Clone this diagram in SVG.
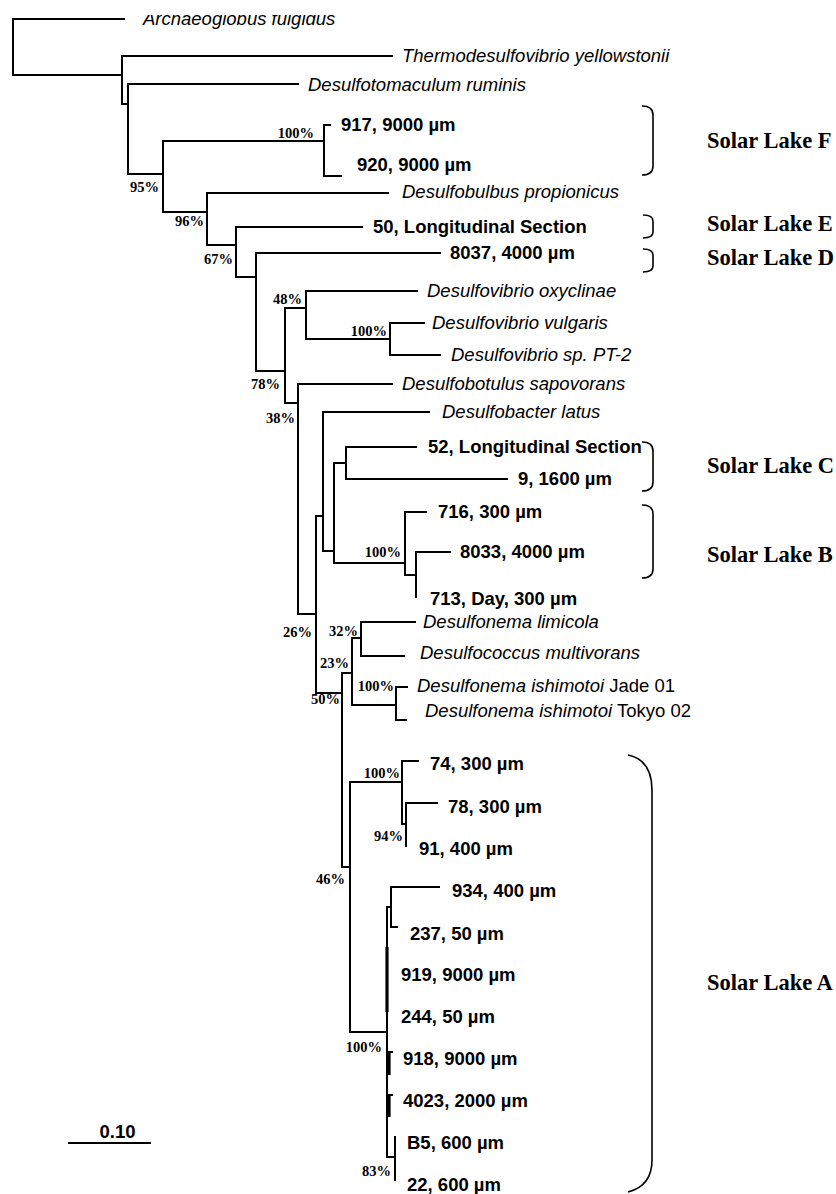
<svg xmlns="http://www.w3.org/2000/svg" width="836" height="1194" viewBox="0 0 836 1194">
<style>
.br{fill:none;stroke:#000;stroke-width:2;stroke-linecap:square}
.thk{fill:none;stroke:#000;stroke-width:3.2}
.bk{fill:none;stroke:#000;stroke-width:1.6}
.sp{font-family:"Liberation Sans",Arial,sans-serif;font-size:18.5px;font-style:italic;fill:#000}
.cl{font-family:"Liberation Sans",Arial,sans-serif;font-size:18.5px;font-weight:bold;fill:#000}
.pc{font-family:"Liberation Serif","Times New Roman",serif;font-size:14.5px;font-weight:bold;fill:#000;text-anchor:end}
.lk{font-family:"Liberation Serif","Times New Roman",serif;font-size:22.5px;font-weight:bold;fill:#000}
.up{font-style:normal}
</style>
<defs>
<clipPath id="topcut"><rect x="0" y="15" width="836" height="30"/></clipPath>
</defs>
<rect width="836" height="1194" fill="#fff"/>
<g id="connectors">
<path class="br" d="M124,19 H13 V75 H122"/>
<path class="br" d="M392,56 H122 V104 H128"/>
<path class="br" d="M298,84 H128 V174 H163"/>
<path class="br" d="M324,141 H163 V212 H207"/>
<path class="br" d="M330,125 H324 V176 H341"/>
<path class="br" d="M388,193 H207 V245 H236"/>
<path class="br" d="M362,227 H236 V277 H256"/>
<path class="br" d="M440,253 H256 V371 H285"/>
<path class="br" d="M306,308 H285 V403 H298"/>
<path class="br" d="M417,291 H306 V339 H390"/>
<path class="br" d="M424,323 H390 V355 H440"/>
<path class="br" d="M392,384 H298 V614 H316"/>
<path class="br" d="M323,516 H316 V693 H342"/>
<path class="br" d="M429,412 H323 V551 H334"/>
<path class="br" d="M346,463 H334 V563 H405"/>
<path class="br" d="M416,447 H346 V479 H507"/>
<path class="br" d="M426,512 H405 V575 H416"/>
<path class="br" d="M450,552 H416 V597"/>
<path class="br" d="M352,673 H342 V867 H350"/>
<path class="br" d="M361,638 H352 V705 H396"/>
<path class="br" d="M415,622 H361 V656 H404"/>
<path class="br" d="M407,687 H396 V720 H406"/>
<path class="br" d="M402,782 H350 V1032 H387"/>
<path class="br" d="M418,761 H402 V824 H406"/>
<path class="br" d="M437,803 H406 V846"/>
<path class="br" d="M391,907 H387 V1157 H395"/>
<path class="br" d="M439,887 H391 V927 H397"/>
<path class="br" d="M395,1137 V1180"/>
<path class="thk" d="M387,947 V1012"/>
<path class="br" d="M387,1052 H392"/>
<path class="thk" d="M389,1052 V1075"/>
<path class="br" d="M387,1095 H392"/>
<path class="thk" d="M389,1095 V1117"/>
</g>
<g id="support">
<text class="pc" x="314" y="138">100%</text>
<text class="pc" x="159" y="192">95%</text>
<text class="pc" x="204" y="226">96%</text>
<text class="pc" x="233" y="264">67%</text>
<text class="pc" x="302" y="304">48%</text>
<text class="pc" x="387" y="336">100%</text>
<text class="pc" x="280" y="389">78%</text>
<text class="pc" x="295" y="423">38%</text>
<text class="pc" x="401" y="557">100%</text>
<text class="pc" x="312" y="637">26%</text>
<text class="pc" x="358" y="636">32%</text>
<text class="pc" x="349" y="668">23%</text>
<text class="pc" x="394" y="691">100%</text>
<text class="pc" x="340" y="704">50%</text>
<text class="pc" x="400" y="778">100%</text>
<text class="pc" x="403" y="841">94%</text>
<text class="pc" x="345" y="884">46%</text>
<text class="pc" x="382" y="1052">100%</text>
<text class="pc" x="391" y="1176">83%</text>
</g>
<g id="leaf-archaeoglobus"><text class="sp" x="143" y="25" clip-path="url(#topcut)">Archaeoglobus fulgidus</text></g>
<g id="leaf-thermodesulfovibrio"><text class="sp" x="402" y="62">Thermodesulfovibrio yellowstonii</text></g>
<g id="leaf-desulfotomaculum"><text class="sp" x="308" y="91">Desulfotomaculum ruminis</text></g>
<g id="leaf-917"><text class="cl" x="341" y="131">917, 9000 µm</text></g>
<g id="leaf-920"><text class="cl" x="357" y="171">920, 9000 µm</text></g>
<g id="leaf-desulfobulbus"><text class="sp" x="402" y="198">Desulfobulbus propionicus</text></g>
<g id="leaf-50"><text class="cl" x="373" y="233">50, Longitudinal Section</text></g>
<g id="leaf-8037"><text class="cl" x="450" y="259">8037, 4000 µm</text></g>
<g id="leaf-oxyclinae"><text class="sp" x="427" y="297">Desulfovibrio oxyclinae</text></g>
<g id="leaf-vulgaris"><text class="sp" x="432" y="329">Desulfovibrio vulgaris</text></g>
<g id="leaf-pt2"><text class="sp" x="451" y="361">Desulfovibrio sp. PT-2</text></g>
<g id="leaf-desulfobotulus"><text class="sp" x="402" y="390">Desulfobotulus sapovorans</text></g>
<g id="leaf-desulfobacter"><text class="sp" x="442" y="418">Desulfobacter latus</text></g>
<g id="leaf-52"><text class="cl" x="428" y="453">52, Longitudinal Section</text></g>
<g id="leaf-9"><text class="cl" x="518" y="485">9, 1600 µm</text></g>
<g id="leaf-716"><text class="cl" x="438" y="518">716, 300 µm</text></g>
<g id="leaf-8033"><text class="cl" x="460" y="558">8033, 4000 µm</text></g>
<g id="leaf-713"><text class="cl" x="430" y="605">713, Day, 300 µm</text></g>
<g id="leaf-limicola"><text class="sp" x="423" y="628">Desulfonema limicola</text></g>
<g id="leaf-multivorans"><text class="sp" x="420" y="659">Desulfococcus multivorans</text></g>
<g id="leaf-jade"><text class="sp" x="417" y="692">Desulfonema ishimotoi<tspan class="up"> Jade 01</tspan></text></g>
<g id="leaf-tokyo"><text class="sp" x="425" y="717">Desulfonema ishimotoi<tspan class="up"> Tokyo 02</tspan></text></g>
<g id="leaf-74"><text class="cl" x="430" y="770">74, 300 µm</text></g>
<g id="leaf-78"><text class="cl" x="448" y="813">78, 300 µm</text></g>
<g id="leaf-91"><text class="cl" x="419" y="855">91, 400 µm</text></g>
<g id="leaf-934"><text class="cl" x="452" y="897">934, 400 µm</text></g>
<g id="leaf-237"><text class="cl" x="410" y="940">237, 50 µm</text></g>
<g id="leaf-919"><text class="cl" x="401" y="981">919, 9000 µm</text></g>
<g id="leaf-244"><text class="cl" x="401" y="1023">244, 50 µm</text></g>
<g id="leaf-918"><text class="cl" x="403" y="1065">918, 9000 µm</text></g>
<g id="leaf-4023"><text class="cl" x="403" y="1107">4023, 2000 µm</text></g>
<g id="leaf-b5"><text class="cl" x="407" y="1149">B5, 600 µm</text></g>
<g id="leaf-22"><text class="cl" x="407" y="1191">22, 600 µm</text></g>
<g id="group-F"><path class="bk" d="M642,106 Q653,106 653,115 V166 Q653,175 642,175"/><text class="lk" x="707" y="148">Solar Lake F</text></g>
<g id="group-E"><path class="bk" d="M643,215 Q653,215 653,221 V232 Q653,238 643,238"/><text class="lk" x="707" y="231">Solar Lake E</text></g>
<g id="group-D"><path class="bk" d="M643,249 Q653,249 653,255 V266 Q653,272 643,272"/><text class="lk" x="707" y="265">Solar Lake D</text></g>
<g id="group-C"><path class="bk" d="M642,442 Q653,442 653,451 V482 Q653,491 642,491"/><text class="lk" x="707" y="473">Solar Lake C</text></g>
<g id="group-B"><path class="bk" d="M642,505 Q653,505 653,514 V569 Q653,578 642,578"/><text class="lk" x="707" y="562">Solar Lake B</text></g>
<g id="group-A"><path class="bk" d="M628,755 Q652,760 652,790 V1160 Q652,1186 628,1192"/><text class="lk" x="707" y="990">Solar Lake A</text></g>
<g id="scale"><path class="br" d="M69,1143 H150" stroke-linecap="butt"/><text class="cl" x="117.5" y="1138" text-anchor="middle" font-size="17">0.10</text></g>
</svg>
